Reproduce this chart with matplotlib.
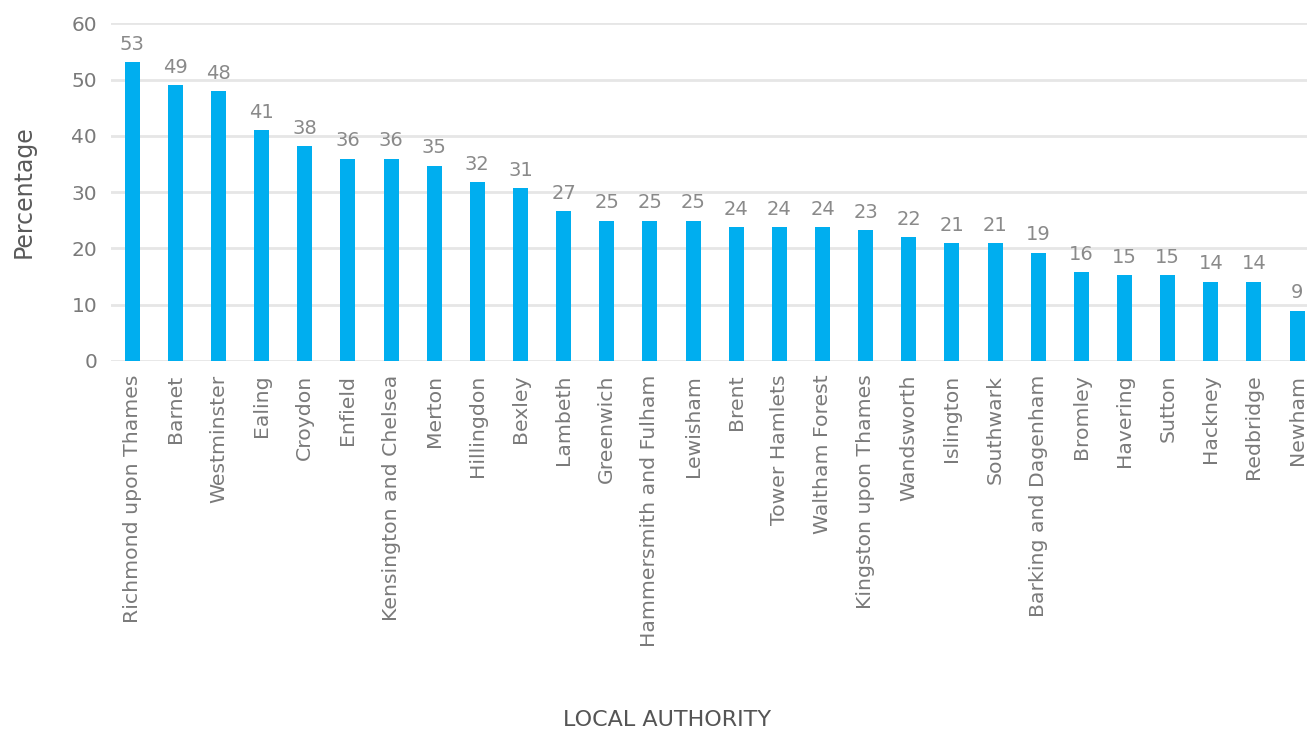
import numpy as np
import matplotlib.pyplot as plt

plt.rcParams['font.family'] = ['DejaVu Sans']

# Share by local authority (percentage)
authorities = [
    'Richmond upon Thames', 'Barnet', 'Westminster', 'Ealing', 'Croydon',
    'Enfield', 'Kensington and Chelsea', 'Merton', 'Hillingdon', 'Bexley',
    'Lambeth', 'Greenwich', 'Hammersmith and Fulham', 'Lewisham', 'Brent',
    'Tower Hamlets', 'Waltham Forest', 'Kingston upon Thames', 'Wandsworth',
    'Islington', 'Southwark', 'Barking and Dagenham', 'Bromley', 'Havering',
    'Sutton', 'Hackney', 'Redbridge', 'Newham',
]
values = [53.1, 49.0, 47.9, 41.0, 38.2, 35.9, 35.9, 34.7, 31.8, 30.7,
          26.6, 24.9, 24.9, 24.9, 23.8, 23.8, 23.8, 23.2, 22.0,
          20.9, 20.9, 19.2, 15.8, 15.2, 15.2, 14.1, 14.1, 8.9]
yticks = [0, 10, 20, 30, 40, 50, 60]

fig = plt.figure(figsize=(13.07, 7.29), dpi=100)
ax = fig.add_axes([0.085, 0.505, 0.915, 0.463])

x = np.arange(len(authorities))
ax.bar(x, values, width=0.35, color='#00aeef', zorder=3)

for xi, v in zip(x, values):
    ax.text(xi, v + 1.5, f'{round(v):d}', ha='center', va='bottom',
            fontsize=14, color='#8a8a8a')

ax.set_ylim(0, 60)
ax.set_xlim(-0.49, len(authorities) - 0.77)
ax.set_yticks(yticks)
ax.set_yticklabels([str(t) for t in yticks], fontsize=14.5, color='#7a7a7a')
ax.yaxis.grid(True, color='#e6e6e6', linewidth=2, zorder=0)
ax.tick_params(axis='y', length=0, pad=10)
ax.tick_params(axis='x', length=0, pad=10)

ax.set_xticks(x)
ax.set_xticklabels(authorities, rotation=90, fontsize=14.7, color='#7a7a7a')

for s in ax.spines.values():
    s.set_visible(False)

fig.text(0.018, 0.737, 'Percentage', rotation=90, ha='center', va='center',
         fontsize=17, color='#5a5a5a')
fig.text(0.51, 0.012, 'LOCAL AUTHORITY', ha='center', va='center',
         fontsize=16, color='#555555')

fig.savefig('out.png', dpi=100)
